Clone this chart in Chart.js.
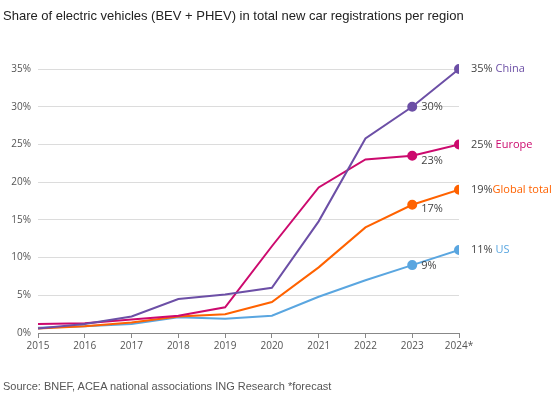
<!DOCTYPE html>
<html>
<head>
<meta charset="utf-8">
<script src="https://cdn.jsdelivr.net/npm/chart.js@4.4.1/dist/chart.umd.min.js"></script>
<style>
  body { margin: 0; background: #fff; }
  #wrap { position: relative; width: 560px; height: 401px; }
  #title { position: absolute; left: 3px; top: 8px; font: 13px "Liberation Sans", Arial, sans-serif; color: #222; white-space: nowrap; }
  #source { position: absolute; left: 3px; top: 380px; font: 11px "Liberation Sans", Arial, sans-serif; color: #555; white-space: nowrap; }
  #box { position: absolute; left: 0; top: 0; width: 560px; height: 401px; }
</style>
</head>
<body>
<div id="wrap">
  <div id="box"><canvas id="myChart"></canvas></div>
  <div id="title">Share of electric vehicles (BEV + PHEV) in total new car registrations per region</div>
  <div id="source">Source: BNEF, ACEA national associations ING Research *forecast</div>
</div>
<script>
	// 데이터
	var years = ['2015', '2016', '2017', '2018', '2019', '2020', '2021', '2022', '2023', '2024*'];
	var china = [0.6, 1.2, 2.2, 4.5, 5.1, 6.0, 14.8, 25.8, 30.0, 35.0];
	var europe = [1.2, 1.3, 1.8, 2.3, 3.4, 11.5, 19.3, 23.0, 23.5, 25.0];
	var globalTotal = [0.6, 0.9, 1.4, 2.2, 2.5, 4.1, 8.7, 14.0, 17.0, 19.0];
	var us = [0.7, 0.9, 1.2, 2.1, 1.9, 2.3, 4.8, 7.0, 9.0, 11.0];
	var seriesNames = ['China', 'Europe', 'Global total', 'US'];
	var endLabels = ['35%', '25%', '19%', '11%'];
	var labels2023 = ['30%', '23%', '17%', '9%'];
	var yTicks = [0, 5, 10, 15, 20, 25, 30, 35];

	var colors = ['#6c4fa6', '#cc0a6e', '#ff6200', '#5aa6e0'];
	var radii = [0, 0, 0, 0, 0, 0, 0, 0, 4, 4];

	// 라벨 그리기
	var labelPlugin = {
		id : 'labelPlugin',
		afterDatasetsDraw : function(chart) {
			var ctx = chart.ctx;
			var area = chart.chartArea;
			var off23 = [0, 5, 4, 1];
			ctx.save();
			ctx.font = '11px "Open Sans", sans-serif';
			ctx.textBaseline = 'middle';
			chart.data.datasets.forEach(function(ds, i) {
				var meta = chart.getDatasetMeta(i);
				var p = meta.data[9];
				var x = area.right + 12;
				ctx.fillStyle = '#444';
				ctx.fillText(endLabels[i], x, p.y);
				var w = ctx.measureText(endLabels[i] + ' ').width;
				ctx.fillStyle = colors[i];
				ctx.fillText(seriesNames[i], x + w - (i == 2 ? 3 : 0), p.y);
				var q = meta.data[8];
				ctx.fillStyle = '#444';
				ctx.fillText(labels2023[i], q.x + 9, q.y + off23[i]);
			});
			ctx.restore();
		}
	};

	function makeSet(name, data, i) {
		return {
			label : name,
			data : data,
			borderColor : colors[i],
			backgroundColor : colors[i],
			borderWidth : 2,
			pointRadius : radii,
			pointHoverRadius : radii,
			tension : 0,
			clip : { left : 5, top : 5, right : 0, bottom : 5 }
		};
	}

	var ctx = document.getElementById('myChart');
	var myChart = new Chart(ctx, {
		type : 'line',
		data : {
			labels : years,
			datasets : [ makeSet('China', china, 0), makeSet('Europe', europe, 1),
					makeSet('Global total', globalTotal, 2), makeSet('US', us, 3) ]
		},
		options : {
			responsive : true,
			maintainAspectRatio : false,
			animation : false,
			layout : { padding : { top : 69, right : 101, left : 0, bottom : 0 } },
			plugins : { legend : { display : false }, tooltip : { enabled : false } },
			scales : {
				x : {
					grid : { drawOnChartArea : false, drawTicks : true, tickLength : 5, color : '#888' },
					border : { display : true, color : '#888' },
					ticks : { color : '#555', font : { size : 10, family : 'Open Sans' }, maxRotation : 0, padding : 2 },
					afterFit : function(s) { s.height = 68; }
				},
				y : {
					min : 0,
					max : 35,
					afterBuildTicks : function(s) { s.ticks = yTicks.map(function(v) { return { value : v }; }); },
					grid : { color : '#dcdcdc', drawTicks : false },
					border : { display : false },
					ticks : { color : '#555', font : { size : 10, family : 'Open Sans' }, padding : 7,
						callback : function(v) { return v + '%'; } },
					afterFit : function(s) { s.width = 38; }
				}
			}
		},
		plugins : [ labelPlugin ]
	});
</script>
</body>
</html>
